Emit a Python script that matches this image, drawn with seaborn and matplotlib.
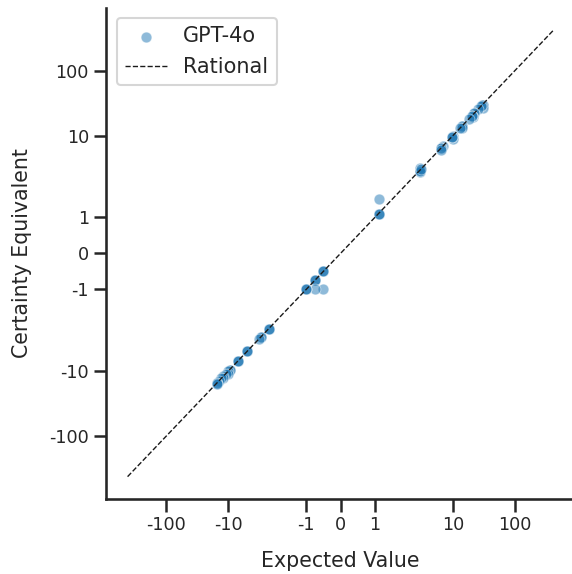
import matplotlib
matplotlib.use("Agg")
import matplotlib.pyplot as plt
import seaborn as sns
import pandas as pd

# expected value vs certainty equivalent answers of the model
expected_value = [
    30, 30, 30, 29, 28, 25, 22, 22, 21, 20, 20, 18,
    14, 14, 14, 13, 10, 10, 9.5, 9.5, 7, 6.5, 6.5, 6.5,
    3, 3, 3, 3, 2.9, 3.1,
    1.1, 1.1, 1.1, 1.1,
    -0.5, -0.5, -0.5, -0.5, -0.75, -0.75, -0.75, -0.75, -1, -1, -1,
    -2.25, -2.25, -2.25, -3, -3, -3.2, -5, -5, -5, -7, -7, -7,
    -9.5, -9.5, -10, -10, -11, -12, -12, -13, -14, -15, -15, -15,
]
certainty_equiv = [
    30, 30, 27, 29, 28, 26, 22, 22, 19, 20, 20, 18,
    14, 14, 13, 13, 10, 9, 9.5, 9.5, 7, 6.5, 6.5, 6,
    3, 3, 3.2, 2.8, 2.9, 3.1,
    1.1, 1.1, 1.1, 1.5,
    -0.5, -0.5, -0.5, -1, -0.75, -0.75, -0.75, -1, -1, -1, -1,
    -2.25, -2.25, -2.25, -3, -3, -3.2, -5, -5, -5, -7, -7, -7,
    -9.5, -9.5, -10, -11, -11, -12, -13, -13, -14, -15, -15, -16,
]
rational_range = [-420, 420]
tick_values = [-100, -10, -1, 0, 1, 10, 100]
tick_labels = ["-100", "-10", "-1", "0", "1", "10", "100"]

df = pd.DataFrame({"Expected Value": expected_value,
                   "Certainty Equivalent": certainty_equiv})

sns.set_theme(style="ticks", context="talk")

fig = plt.figure(figsize=(5.72, 5.74), dpi=100)
ax = fig.add_axes([0.1858, 0.1307, 0.8194, 0.856])

sns.scatterplot(data=df, x="Expected Value", y="Certainty Equivalent",
                alpha=0.5, s=60, color="#1f77b4", label="GPT-4o", ax=ax)
ax.plot(rational_range, rational_range, "k--", lw=1, label="Rational")

ax.set_xscale("symlog", linthresh=2)
ax.set_yscale("symlog", linthresh=2)
ax.set_xticks(tick_values)
ax.set_xticklabels(tick_labels)
ax.set_yticks(tick_values)
ax.set_yticklabels(tick_labels)
ax.minorticks_off()

ax.tick_params(labelsize=12.7, length=9, width=1.8)
ax.set_xlabel("Expected Value", fontsize=14.8, labelpad=12)
ax.set_ylabel("Certainty Equivalent", fontsize=14.8, labelpad=12)
ax.legend(loc="upper left", fontsize=15)
sns.despine(ax=ax)

fig.savefig("out.png", dpi=100)
